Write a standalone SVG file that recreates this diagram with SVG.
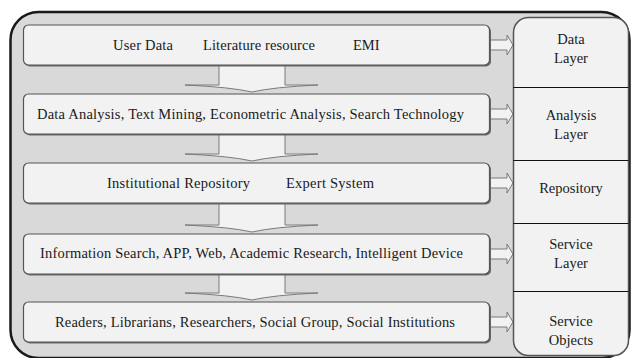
<svg xmlns="http://www.w3.org/2000/svg" width="635" height="358" viewBox="0 0 635 358">
<style>
.t{font-size:14.5px;fill:#1a1a1a}
.mid{text-anchor:middle}
.box{fill:#f2f2f2;stroke:#555;stroke-width:1.2}
.shadow{fill:#6a6a6a}
.arr{fill:#f2f2f2;stroke:#7a7a7a;stroke-width:1}
.div{stroke:#111;stroke-width:1}
</style>
<rect x="0" y="0" width="635" height="358" fill="#ffffff"/>
<g id="frame">
<rect x="10.5" y="12" width="619" height="346" rx="28" fill="#d9d9d9" stroke="#1a1a1a" stroke-width="2.5"/>
</g>
<g id="connectors">
<path class="arr" d="M219,65 V85 H185 Q230,87 252,92 Q274,87 318,85 H285 V65"/>
<path class="arr" d="M219,134 V154 H185 Q230,156 252,161 Q274,156 318,154 H285 V134"/>
<path class="arr" d="M219,203 V225 H185 Q230,227 252,232 Q274,227 318,225 H285 V203"/>
<path class="arr" d="M219,274 V293 H185 Q230,295 252,300 Q274,295 318,293 H285 V274"/>
<path class="arr" d="M490,40 H507 V35 L513,45 L507,55 V50 H490 Z"/>
<path class="arr" d="M490,109 H507 V104 L513,114 L507,124 V119 H490 Z"/>
<path class="arr" d="M490,178 H507 V173 L513,183 L507,193 V188 H490 Z"/>
<path class="arr" d="M490,249 H507 V244 L513,254 L507,264 V259 H490 Z"/>
<path class="arr" d="M490,317 H507 V312 L513,322 L507,332 V327 H490 Z"/>
</g>
<g font-family="'Liberation Serif', 'DejaVu Serif', serif">
<g id="box-data">
<rect class="shadow" x="25" y="26.5" width="466" height="40" rx="5"/>
<rect class="box" x="23.5" y="25" width="466" height="40" rx="5"/>
<text class="t" x="113" y="50" textLength="60">User Data</text>
<text class="t" x="203" y="50" textLength="112">Literature resource</text>
<text class="t" x="353" y="50">EMI</text>
</g>
<g id="box-analysis">
<rect class="shadow" x="25" y="95.5" width="466" height="40" rx="5"/>
<rect class="box" x="23.5" y="94" width="466" height="40" rx="5"/>
<text class="t" x="37" y="119" textLength="427">Data Analysis, Text Mining,  Econometric Analysis, Search Technology</text>
</g>
<g id="box-repository">
<rect class="shadow" x="25" y="164.5" width="466" height="40" rx="5"/>
<rect class="box" x="23.5" y="163" width="466" height="40" rx="5"/>
<text class="t" x="107" y="188" textLength="143">Institutional Repository</text>
<text class="t" x="286" y="188" textLength="88">Expert System</text>
</g>
<g id="box-service">
<rect class="shadow" x="25" y="235.5" width="466" height="40" rx="5"/>
<rect class="box" x="23.5" y="234" width="466" height="40" rx="5"/>
<text class="t" x="40" y="258" textLength="423">Information Search, APP, Web, Academic Research, Intelligent Device</text>
</g>
<g id="box-objects">
<rect class="shadow" x="25" y="303.5" width="466" height="40" rx="5"/>
<rect class="box" x="23.5" y="302" width="466" height="40" rx="5"/>
<text class="t" x="55" y="327" textLength="400">Readers, Librarians, Researchers, Social Group, Social Institutions</text>
</g>
<g id="layer-panel">
<rect x="513.5" y="17.5" width="115" height="338" rx="15" fill="#f2f2f2" stroke="#555" stroke-width="1.5"/>
<line class="div" x1="513.5" y1="87.5" x2="628.5" y2="87.5"/>
<line class="div" x1="513.5" y1="160.5" x2="628.5" y2="160.5"/>
<line class="div" x1="513.5" y1="223.5" x2="628.5" y2="223.5"/>
<line class="div" x1="513.5" y1="291.5" x2="628.5" y2="291.5"/>
<text class="t mid" x="571" y="44">Data</text>
<text class="t mid" x="571" y="63">Layer</text>
<text class="t mid" x="571" y="120">Analysis</text>
<text class="t mid" x="571" y="139">Layer</text>
<text class="t mid" x="571" y="193">Repository</text>
<text class="t mid" x="571" y="249">Service</text>
<text class="t mid" x="571" y="268">Layer</text>
<text class="t mid" x="571" y="326">Service</text>
<text class="t mid" x="571" y="345">Objects</text>
</g>
</g>
</svg>
